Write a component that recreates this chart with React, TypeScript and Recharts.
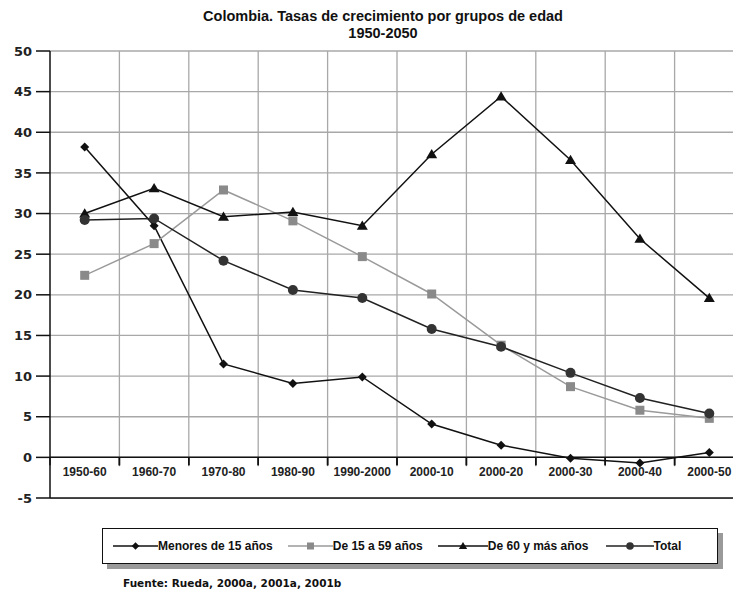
import React from 'react';
import {
  LineChart, Line, XAxis, YAxis, CartesianGrid, ReferenceLine, ReferenceArea, Legend,
} from 'recharts';

const periods = ['1950-60', '1960-70', '1970-80', '1980-90', '1990-2000', '2000-10', '2000-20', '2000-30', '2000-40', '2000-50'];
const menores15 = [38.2, 28.5, 11.5, 9.1, 9.9, 4.1, 1.5, -0.1, -0.7, 0.6];
const de15a59 = [22.4, 26.3, 32.9, 29.1, 24.7, 20.1, 13.8, 8.7, 5.8, 4.8];
const de60ymas = [30.0, 33.1, 29.6, 30.2, 28.5, 37.3, 44.4, 36.6, 26.9, 19.6];
const total = [29.2, 29.4, 24.2, 20.6, 19.6, 15.8, 13.6, 10.4, 7.3, 5.4];
const yTicks = [-5, 0, 5, 10, 15, 20, 25, 30, 35, 40, 45, 50];
const seriesNames = ['Menores de 15 años', 'De 15 a 59 años', 'De 60 y más años', 'Total'];

const data = periods.map((p, i) => ({
  period: p,
  m15: menores15[i],
  d1559: de15a59[i],
  d60: de60ymas[i],
  total: total[i],
}));

// layout constants
const CHART_W = 750;
const CHART_H = 593;
const M_TOP = 51;
const Y_W = 50;
const PLOT_W = 694;
const PLOT_H = 447;
const X_H = 30;
const M_BOTTOM = CHART_H - M_TOP - PLOT_H - X_H;
const M_RIGHT = CHART_W - Y_W - PLOT_W;
const Y_MIN = -5;
const Y_MAX = 50;
const ZERO_Y = M_TOP + PLOT_H * (Y_MAX / (Y_MAX - Y_MIN));
const STEP = PLOT_W / periods.length;

const AX = '"Liberation Sans", Arial, sans-serif';
const VD = '"DejaVu Sans", Verdana, sans-serif';

type Shape = 'diamond' | 'square' | 'triangle' | 'circle';

const markerPath = (shape: Shape, cx: number, cy: number, s: number, fill: string, key?: string) => {
  if (shape === 'diamond') {
    return <path key={key} d={`M${cx},${cy - s}L${cx + s},${cy}L${cx},${cy + s}L${cx - s},${cy}Z`} fill={fill} />;
  }
  if (shape === 'square') {
    return <rect key={key} x={cx - s} y={cy - s} width={2 * s} height={2 * s} fill={fill} />;
  }
  if (shape === 'triangle') {
    return <path key={key} d={`M${cx},${cy - s * 1.05}L${cx + s * 1.1},${cy + s * 0.8}L${cx - s * 1.1},${cy + s * 0.8}Z`} fill={fill} />;
  }
  return <circle key={key} cx={cx} cy={cy} r={s} fill={fill} />;
};

const makeDot = (shape: Shape, s: number, fill: string) => (props: any) => {
  const { cx, cy, index } = props;
  if (cx == null || cy == null) return <g key={`n${index}`} />;
  return markerPath(shape, cx, cy, s, fill, `${shape}${index}`);
};

const SERIES = [
  { key: 'm15', name: seriesNames[0], stroke: '#111', shape: 'diamond' as Shape, size: 4.5, fill: '#111', lw: 45, gap: 15 },
  { key: 'd1559', name: seriesNames[1], stroke: '#9a9a9a', shape: 'square' as Shape, size: 4.5, fill: '#8a8a8a', lw: 45, gap: 15 },
  { key: 'd60', name: seriesNames[2], stroke: '#111', shape: 'triangle' as Shape, size: 5, fill: '#111', lw: 50, gap: 17 },
  { key: 'total', name: seriesNames[3], stroke: '#222', shape: 'circle' as Shape, size: 5, fill: '#333', lw: 48, gap: 0 },
];

const XTick = (props: any) => {
  const { x, payload } = props;
  return (
    <g>
      <line x1={x - STEP / 2} x2={x - STEP / 2} y1={ZERO_Y} y2={ZERO_Y + 8} stroke="#111" strokeWidth={1.5} />
      <line x1={x + STEP / 2} x2={x + STEP / 2} y1={ZERO_Y} y2={ZERO_Y + 8} stroke="#111" strokeWidth={1.5} />
      <text x={x} y={ZERO_Y + 19} textAnchor="middle" fontFamily={AX} fontWeight="bold" fontSize={12} fill="#222">
        {payload.value}
      </text>
    </g>
  );
};

const LegendBox = (props: any) => {
  const payload = [...(props.payload || [])].sort(
    (a: any, b: any) => SERIES.findIndex((q) => q.key === a.dataKey) - SERIES.findIndex((q) => q.key === b.dataKey),
  );
  return (
    <div style={{
      width: 616, height: 36, boxSizing: 'border-box', border: '1.5px solid #111',
      boxShadow: '5px 5px 0 #9a9a9a', background: '#fff', display: 'flex', alignItems: 'center',
      paddingLeft: 10, fontFamily: AX, fontWeight: 'bold', fontSize: 12, color: '#111',
    }}>
      {payload.map((p: any) => {
        const s = SERIES.find((q) => q.key === p.dataKey) || SERIES[0];
        return (
          <div key={s.key} style={{ display: 'flex', alignItems: 'center', marginRight: s.gap }}>
            <svg width={s.lw} height={12} style={{ display: 'block' }}>
              <line x1={0} x2={s.lw} y1={6} y2={6} stroke={s.stroke} strokeWidth={1.5} />
              {markerPath(s.shape, s.lw / 2, 6, s.shape === 'square' ? 3.5 : 3.8, s.fill)}
            </svg>
            <span style={{ whiteSpace: 'nowrap' }}>{s.name}</span>
          </div>
        );
      })}
    </div>
  );
};

export default function App() {
  return (
    <div style={{ position: 'absolute', left: 0, top: 0, width: 733, height: 593, overflow: 'hidden', background: '#fff' }}>
      <div style={{
        position: 'absolute', left: 83, top: 8, width: 600, textAlign: 'center', fontFamily: AX,
        fontWeight: 'bold', fontSize: 14.5, lineHeight: '16.5px', color: '#111', zIndex: 2,
      }}>
        Colombia. Tasas de crecimiento por grupos de edad<br />1950-2050
      </div>
      <LineChart
        width={CHART_W}
        height={CHART_H}
        data={data}
        margin={{ top: M_TOP, right: M_RIGHT, bottom: M_BOTTOM, left: 0 }}
      >
        <CartesianGrid
          stroke="#a8a8a8"
          strokeWidth={1.3}
          verticalCoordinatesGenerator={({ offset }: any) =>
            periods.map((_, i) => offset.left + (i + 1) * (offset.width / periods.length))}
        />
        <ReferenceArea y1={-5} y2={-1.1} fill="#fff" fillOpacity={1} stroke="none" ifOverflow="hidden" />
        <XAxis
          dataKey="period"
          scale="band"
          height={X_H}
          axisLine={{ stroke: '#111', strokeWidth: 1.5 }}
          tickLine={false}
          tick={<XTick />}
          interval={0}
        />
        <YAxis
          width={Y_W}
          domain={[Y_MIN, Y_MAX]}
          ticks={yTicks}
          interval={0}
          tickSize={14}
          tickMargin={4}
          axisLine={{ stroke: '#111', strokeWidth: 1.5 }}
          tickLine={{ stroke: '#111', strokeWidth: 1.5 }}
          tick={{ fontFamily: VD, fontWeight: 'bold', fontSize: 13, fill: '#222' }}
        />
        <ReferenceLine y={0} stroke="#111" strokeWidth={1.5} />
        {SERIES.map((s) => (
          <Line
            key={s.key}
            type="linear"
            dataKey={s.key}
            name={s.name}
            stroke={s.stroke}
            strokeWidth={1.5}
            dot={makeDot(s.shape, s.size, s.fill)}
            activeDot={false}
            isAnimationActive={false}
          />
        ))}
        <Legend
          layout="horizontal"
          verticalAlign="middle"
          align="center"
          content={<LegendBox />}
          wrapperStyle={{ position: 'absolute', left: 102, top: 528, width: 616, height: 36 }}
        />
      </LineChart>
      <div style={{
        position: 'absolute', left: 123, top: 577, fontFamily: VD, fontWeight: 'bold', fontSize: 10.5,
        color: '#111', whiteSpace: 'nowrap',
      }}>
        Fuente: Rueda, 2000a, 2001a, 2001b
      </div>
    </div>
  );
}
